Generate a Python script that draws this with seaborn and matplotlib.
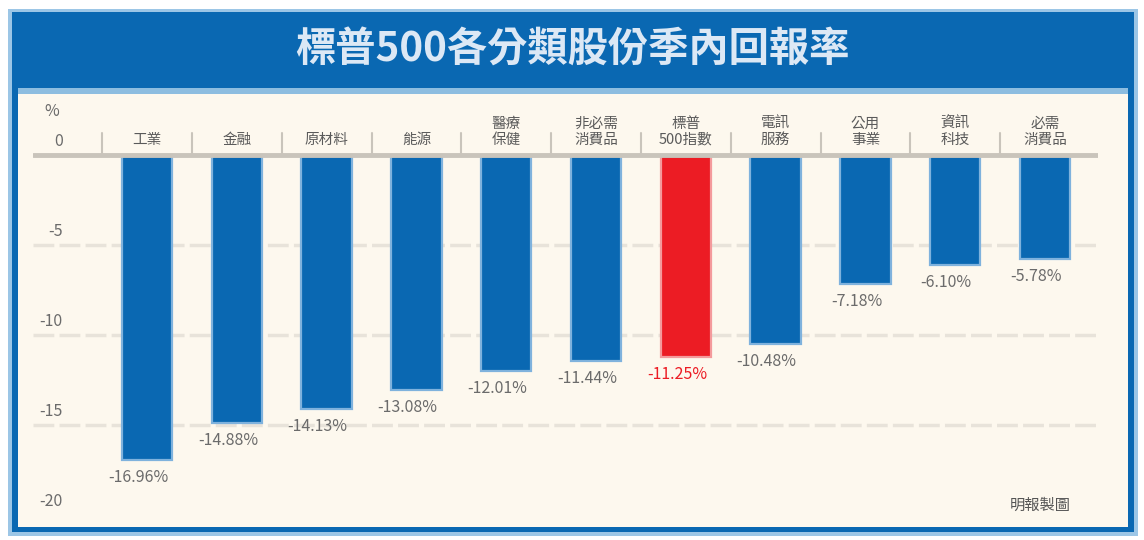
import matplotlib
matplotlib.use('Agg')
import matplotlib.pyplot as plt
import seaborn as sns
import pandas as pd
from matplotlib.patches import Rectangle

# data
categories = ['工業', '金融', '原材料', '能源', '醫療\n保健', '非必需\n消費品',
              '標普\n500指數', '電訊\n服務', '公用\n事業', '資訊\n科技', '必需\n消費品']
returns = [-16.96, -14.88, -14.13, -13.08, -12.01, -11.44, -11.25, -10.48, -7.18, -6.10, -5.78]
highlight = '標普\n500指數'
y_ticks = [0, -5, -10, -15, -20]
title = '標普500各分類股份季內回報率'
source = '明報製圖'

blue = '#0a68b2'
red = '#ec1c24'
cream = '#fdf8ee'
grey_txt = '#6b6b6b'

sns.set_theme(style='white')
plt.rcParams['font.family'] = ['Noto Sans CJK TC', 'DejaVu Sans']
plt.rcParams['axes.unicode_minus'] = False

W, H = 1144, 540
fig = plt.figure(figsize=(W / 100, H / 100), dpi=100)
fig.patch.set_facecolor('white')

def px(x0, y0, x1, y1):
    # pixel box (top-left origin) -> figure fraction rect
    return (x0 / W, 1 - y1 / H, (x1 - x0) / W, (y1 - y0) / H)

# frame and title band
frame = [((8, 9, 1138, 536), '#9cc6e6'),
         ((12, 12, 1134, 532), blue),
         ((18, 88, 1128, 527), '#8dbde0'),
         ((18, 94, 1128, 527), cream)]
for box, col in frame:
    l, b, w, h = px(*box)
    fig.patches.append(Rectangle((l, b), w, h, transform=fig.transFigure,
                                 facecolor=col, edgecolor='none', zorder=-10))
fig.text(0.5, 1 - 50 / H, title, color='#dce8f5', fontsize=29, fontweight='bold',
         ha='center', va='center')

# plotting area
ax = fig.add_axes(px(33, 95, 1098, 525))
ax.set_facecolor('none')

df = pd.DataFrame({'cat': categories, 'ret': returns})
palette = {c: (red if c == highlight else blue) for c in categories}
sns.barplot(data=df, x='cat', y='ret', hue='cat', palette=palette, legend=False,
            width=0.56, saturation=1, ax=ax, zorder=3)
for patch, c in zip(ax.patches, categories):
    patch.set_edgecolor('#f49a9c' if c == highlight else '#7fb2dd')
    patch.set_linewidth(1.6)

ax.set_xlim(-1.27, 10.59)
ax.set_ylim(-20.56, 3.33)
ax.axis('off')

# grid lines and zero line
for t in y_ticks[1:4]:
    ax.axhline(t, color='#e8e3da', lw=2.5, ls=(0, (6, 1.5)), zorder=1)
ax.axhline(0, color='#c9c4bb', lw=3.5, zorder=4)

# y tick labels
for t in y_ticks:
    ax.text(-0.94, t + 0.3, f'{t}' if t == 0 else f'-{abs(t)}', ha='right', va='bottom',
            fontsize=11.5, color=grey_txt)
ax.text(-1.06, 2.4, '%', ha='center', va='center', fontsize=11.5, color=grey_txt)

# separators between categories
for i in range(len(categories)):
    ax.plot([i - 0.5, i - 0.5], [0, 1.2], color='#c9c4bb', lw=1.5, zorder=4)

# category labels above zero line
for i, c in enumerate(categories):
    ax.text(i, 0.45, c, ha='center', va='bottom', fontsize=10.5, color='#5a5a5a',
            linespacing=1.15)

# value labels under bars
for i, (c, v) in enumerate(zip(categories, returns)):
    ax.text(i - 0.1, v - 0.5, f'{v:.2f}%', ha='center', va='top', fontsize=11.5,
            color=(red if c == highlight else grey_txt))

fig.text(1040 / W, 1 - 505 / H, source, ha='center', va='center', fontsize=11, color='#555555')

fig.savefig('out.png', dpi=100, facecolor=fig.get_facecolor())
